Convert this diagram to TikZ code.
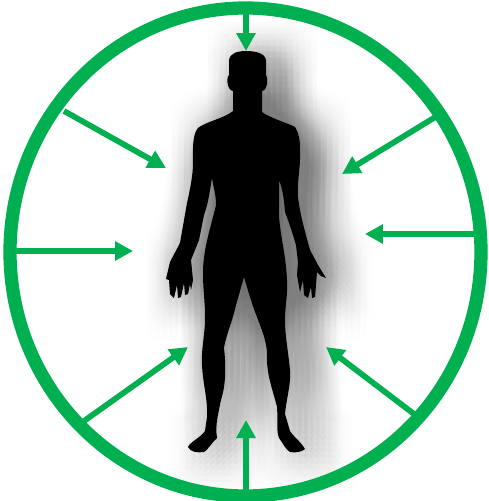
\documentclass[tikz,border=0pt]{standalone}
\usepackage{xcolor}
\usetikzlibrary{arrows.meta}
\definecolor{ringgreen}{RGB}{0,176,80}
% outline of the figure, in reference pixels
\newcommand{\figureoutline}{
  (246,51) .. controls (238,51) and (230,53) .. (229,60)
  -- (229,75) .. controls (226,78) and (227,90) .. (233,91)
  -- (233,111) .. controls (225,118) and (205,122) .. (198,128)
  .. controls (192,135) and (193,150) .. (193,163)
  .. controls (193,175) and (190,190) .. (187,203)
  -- (180,243) -- (170,262) -- (166,279) -- (169,280) -- (170,294)
  -- (174,298) -- (177,285) -- (178,298) -- (181,297) -- (184,283)
  -- (185,295) -- (188,294) -- (190,284) -- (191,290) -- (193,280)
  -- (191,260) -- (199,240) -- (204,215)
  .. controls (208,205) and (210,190) .. (212,178)
  .. controls (214,190) and (216,195) .. (216,205)
  .. controls (210,230) and (203,250) .. (203,273)
  .. controls (203,290) and (205,300) .. (205,318)
  .. controls (205,335) and (201,350) .. (202,365)
  .. controls (203,385) and (208,400) .. (207,417)
  -- (205,431) .. controls (200,438) and (190,442) .. (188,447)
  .. controls (190,452) and (198,453) .. (204,452)
  .. controls (208,450) and (212,442) .. (217,438)
  .. controls (215,425) and (218,415) .. (221,400)
  .. controls (226,385) and (226,365) .. (224,348)
  .. controls (226,335) and (233,320) .. (236,305)
  -- (244,277)
  .. controls (248,290) and (252,305) .. (257,317)
  .. controls (262,330) and (266,340) .. (267,352)
  .. controls (266,375) and (273,390) .. (277,407)
  .. controls (278,420) and (276,430) .. (279,438)
  .. controls (283,443) and (285,449) .. (290,452)
  .. controls (295,453) and (302,452) .. (305,449)
  .. controls (301,442) and (293,436) .. (290,431)
  -- (285,414) .. controls (287,395) and (291,385) .. (290,370)
  .. controls (288,350) and (285,335) .. (285,320)
  .. controls (285,305) and (288,295) .. (287,280)
  .. controls (286,255) and (280,235) .. (279,215)
  -- (279,180)
  .. controls (283,190) and (284,200) .. (285,212)
  .. controls (290,225) and (293,235) .. (296,245)
  -- (298,262) -- (297,275) -- (300,292) -- (303,280) -- (304,295)
  -- (308,298) -- (311,287) -- (312,298) -- (315,297) -- (316,285)
  -- (317,272) -- (321,276) -- (326,278) -- (318,265) -- (310,250)
  .. controls (306,235) and (300,215) .. (298,197)
  .. controls (297,180) and (301,165) .. (300,150)
  .. controls (300,140) and (299,133) .. (295,127)
  .. controls (285,122) and (270,118) .. (262,112)
  -- (262,91) .. controls (268,90) and (268,78) .. (266,75)
  -- (266,60) .. controls (265,53) and (255,51) .. (246,51) -- cycle
}
\begin{document}
\begin{tikzpicture}[
  x=0.02cm,y=-0.02cm,
  ring/.style={draw=ringgreen,line width=0.265cm},
  arr/.style={draw=ringgreen,line width=0.115cm,
              -{Triangle[length=0.36cm,width=0.37cm]}},
]
  \useasboundingbox (0,0) rectangle (488,501);

  % soft shadow behind the figure: offset copies with gaussian weights
  \foreach \dx in {-36,-30,...,36}
    \foreach \dy in {-36,-30,...,36} {
      \pgfmathsetmacro{\weight}{0.002+0.012*exp(-(\dx*\dx+\dy*\dy)/648)}
      \fill[black,fill opacity=\weight,shift={(15+\dx,6+\dy)}] \figureoutline;
    }
  \fill[black] \figureoutline;

  \draw[ring] (245.5,252) ellipse [x radius=235.5,y radius=244];

  % ends on the ring and tips near the figure
  \coordinate (ringtop)    at (246,14);
  \coordinate (tiptop)     at (246,51);
  \coordinate (ringul)     at (64,111);
  \coordinate (tipul)      at (166,168);
  \coordinate (ringur)     at (437,116);
  \coordinate (tipur)      at (342,174);
  \coordinate (ringright)  at (476,234);
  \coordinate (tipright)   at (365,234);
  \coordinate (ringleft)   at (16,251);
  \coordinate (tipleft)    at (133,251);
  \coordinate (ringll)     at (84,421);
  \coordinate (tipll)      at (188,347);
  \coordinate (ringlr)     at (414,414);
  \coordinate (tiplr)      at (326,347);
  \coordinate (ringbottom) at (246,491);
  \coordinate (tipbottom)  at (246,420);

  \draw[arr] (ringtop)    -- (tiptop);
  \draw[arr] (ringul)     -- (tipul);
  \draw[arr] (ringur)     -- (tipur);
  \draw[arr] (ringright)  -- (tipright);
  \draw[arr] (ringleft)   -- (tipleft);
  \draw[arr] (ringll)     -- (tipll);
  \draw[arr] (ringlr)     -- (tiplr);
  \draw[arr] (ringbottom) -- (tipbottom);
\end{tikzpicture}
\end{document}
